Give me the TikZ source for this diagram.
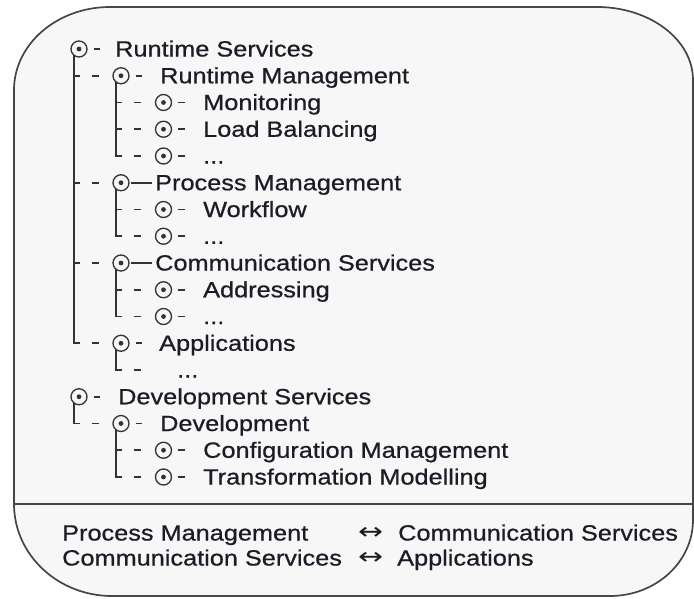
\documentclass[tikz,border=0pt]{standalone}
\usepackage{fontspec}
\setmainfont{Liberation Sans}[FakeStretch=1.15,FakeBold=0.7]
\newfontfamily\arrowfont{DejaVu Sans}[FakeStretch=1.3]
\usetikzlibrary{calc}
\definecolor{framec}{RGB}{70,70,70}
\definecolor{fillc}{RGB}{247,247,247}
\definecolor{linec}{RGB}{50,50,55}
\definecolor{txtc}{RGB}{28,28,38}
\tikzset{
  frame/.style={draw=framec, line width=1.7pt},
  bullet/.style={circle, draw=linec, line width=1.3pt, minimum size=16pt, inner sep=0pt,
    path picture={\fill[linec] (path picture bounding box.center) circle (2.4);}},
  txt/.style={anchor=base west, inner sep=0pt, text=txtc, font=\fontsize{22}{26}\selectfont},
  arrowtxt/.style={anchor=base west, inner sep=0pt, text=txtc, font=\arrowfont\fontsize{23}{26}\selectfont},
  stemline/.style={draw=linec, line width=1.6pt},
  hdash/.style={draw=linec, line width=1.6pt, dash pattern=on 7pt off 12pt on 7pt off 60pt},
  aft/.style={draw=linec, line width=1.6pt},
}
\begin{document}
\begin{tikzpicture}[x=1pt,y=-1pt]
\useasboundingbox (0,0) rectangle (694,598);
\fill[white] (0,0) rectangle (694,598);
% frame
\path[frame, fill=fillc] (14,90) .. controls (14,44.2) and (57,7) .. (110,7)
  -- (597,7) .. controls (650,7) and (693,39.7) .. (693,80)
  -- (693,520) .. controls (693,562) and (655.8,596) .. (610,596)
  -- (112,596) .. controls (58,596) and (14,554.8) .. (14,504) -- cycle;
\draw[frame] (14,504) -- (693,504);

% bullets
\node[bullet] (c0) at (79,49) {};
\node[bullet] (c1) at (121,75.75) {};
\node[bullet] (c2) at (163.5,102.5) {};
\node[bullet] (c3) at (163.5,129.25) {};
\node[bullet] (c4) at (163.5,156) {};
\node[bullet] (c5) at (121,182.75) {};
\node[bullet] (c6) at (163.5,209.5) {};
\node[bullet] (c7) at (163.5,236.25) {};
\node[bullet] (c8) at (121,263) {};
\node[bullet] (c9) at (163.5,289.75) {};
\node[bullet] (c10) at (163.5,316.5) {};
\node[bullet] (c11) at (121,343.25) {};
\coordinate (a12) at (177,370);
\node[bullet] (c13) at (79,396.75) {};
\node[bullet] (c14) at (121,423.5) {};
\node[bullet] (c15) at (163.5,450.25) {};
\node[bullet] (c16) at (163.5,477) {};

% texts
\node[txt] (t0) at (115,56.5) {Runtime Services};
\node[txt] (t1) at (160,83.25) {Runtime Management};
\node[txt] (t2) at (203,110) {Monitoring};
\node[txt] (t3) at (203,136.75) {Load Balancing};
\node[txt] (t4) at (203,163.5) {...};
\node[txt] (t5) at (155,190.25) {Process Management};
\node[txt] (t6) at (203,217) {Workflow};
\node[txt] (t7) at (203,243.75) {...};
\node[txt] (t8) at (155,270.5) {Communication Services};
\node[txt] (t9) at (203,297.25) {Addressing};
\node[txt] (t10) at (203,324) {...};
\node[txt] (t11) at (159,350.75) {Applications};
\node[txt] (t12) at (a12) [yshift=-7.5pt] {...};
\node[txt] (t13) at (118,404.25) {Development Services};
\node[txt] (t14) at (160,431) {Development};
\node[txt] (t15) at (203,457.75) {Configuration Management};
\node[txt] (t16) at (203,484.5) {Transformation Modelling};

% dashes after bullets
\foreach \c in {c0,c1,c2,c3,c4,c6,c7,c9,c10,c11,c13,c14,c15,c16}{
  \draw[aft] ([xshift=6pt]\c.east) -- ++(6.5,0);
}
\draw[aft] ([xshift=1pt]c5.east) -- (c5.east -| t5.west) [shorten >=3pt];
\draw[aft] ([xshift=1pt]c8.east) -- (c8.east -| t8.west) [shorten >=3pt];

% stems
\coordinate (s0) at ($(c0.center)+(-5,6)$);
\coordinate (s1) at ($(c1.center)+(-5,6)$);
\coordinate (s5) at ($(c5.center)+(-5,6)$);
\coordinate (s8) at ($(c8.center)+(-5,6)$);
\coordinate (s11) at ($(c11.center)+(-5,6)$);
\coordinate (s13) at ($(c13.center)+(-5,6)$);
\coordinate (s14) at ($(c14.center)+(-5,6)$);

\draw[stemline] (s0) -- ([yshift=0.8pt]s0 |- c11);
\draw[stemline] (s1) -- ([yshift=0.8pt]s1 |- c4);
\draw[stemline] (s5) -- ([yshift=0.8pt]s5 |- c7);
\draw[stemline] (s8) -- ([yshift=0.8pt]s8 |- c10);
\draw[stemline] (s11) -- ([yshift=0.8pt]s11 |- a12);
\draw[stemline] (s13) -- ([yshift=0.8pt]s13 |- c14);
\draw[stemline] (s14) -- ([yshift=0.8pt]s14 |- c16);

% horizontal dashed links
\foreach \s/\c in {s0/c1,s0/c5,s0/c8,s0/c11,s1/c2,s1/c3,s1/c4,s5/c6,s5/c7,s8/c9,s8/c10,s13/c14,s14/c15,s14/c16}{
  \draw[hdash] ([xshift=-0.8pt]\s |- \c) -- (\c.west);
}
\draw[hdash] ([xshift=-0.8pt]s11 |- a12) -- (a12);

% footer
\node[txt] (f1a) at (62,540.5) {Process Management};
\node[arrowtxt] (f1r) at (358,539.5) {↔};
\node[txt] (f1b) at (398,540.5) {Communication Services};
\node[txt] (f2a) at (62,565.5) {Communication Services};
\node[arrowtxt] (f2r) at (358,564.5) {↔};
\node[txt] (f2b) at (397,565.5) {Applications};
\end{tikzpicture}
\end{document}
